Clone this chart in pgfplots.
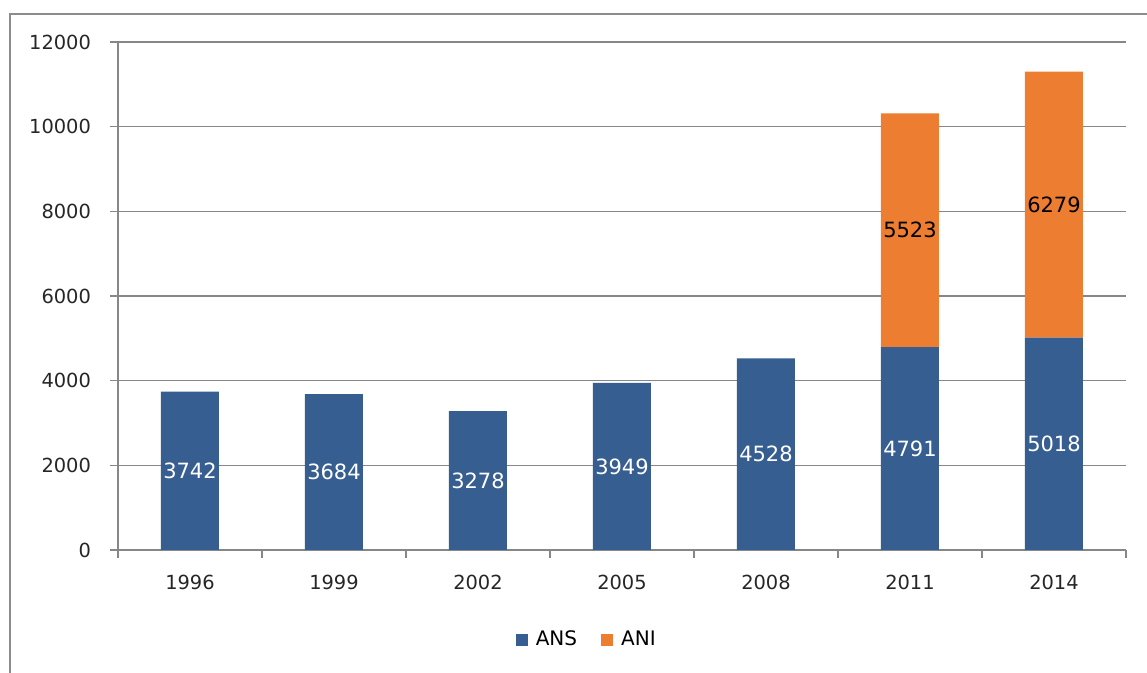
\documentclass[border=0pt]{standalone}
\usepackage{pgfplots}
\usepackage{pgfplotstable}
\usepackage{fontspec}
\setmainfont{DejaVu Sans}
\pgfplotsset{compat=1.18}
\definecolor{ansblue}{RGB}{55,94,145}
\definecolor{aniorange}{RGB}{237,125,49}
\definecolor{gridgray}{RGB}{135,135,135}
\definecolor{framegray}{RGB}{140,140,140}
\pgfplotstableread{
x ans ani
0 3742 0
1 3684 0
2 3278 0
3 3949 0
4 4528 0
5 4791 5523
6 5018 6279
}\datatable
\begin{document}
\begin{tikzpicture}
\path[use as bounding box] (0,0) rectangle (573.5pt,336.5pt);
\draw[framegray, line width=0.8pt] (5pt,0) -- (5pt,329.5pt) -- (573.5pt,329.5pt);
\begin{axis}[
  at={(59pt,61.5pt)}, anchor=south west,
  scale only axis, width=504pt, height=254pt,
  ybar stacked, bar width=29pt,
  xmin=-0.5, xmax=6.5, ymin=0, ymax=12000,
  axis x line=bottom, axis y line=left,
  axis line style={-, gridgray, line width=0.8pt},
  xtick={0,...,6},
  xticklabels={1996,1999,2002,2005,2008,2011,2014},
  minor xtick={-0.5,0.5,...,6.5},
  ytick={0,2000,...,12000},
  scaled y ticks=false,
  ymajorgrids, grid style={gridgray, line width=0.8pt},
  tick align=outside,
  major tick length=4pt, minor tick length=4pt,
  x tick style={draw=none}, minor x tick style={draw=gridgray, line width=0.8pt},
  y tick style={gridgray, line width=0.8pt},
  tick label style={font=\fontsize{9.7pt}{11pt}\selectfont, text=black!85},
  xticklabel style={yshift=-5pt},
  yticklabel style={xshift=-6pt},
  /pgf/number format/assume math mode=true,
  /pgf/number format/1000 sep={},
  legend style={at={(0.466,-0.177)}, anchor=center, draw=none, fill=none,
    legend columns=2, font=\fontsize{10pt}{12pt}\selectfont,
    /tikz/every odd column/.append style={column sep=2pt},
    /tikz/every even column/.append style={column sep=10pt}},
  legend image code/.code={\fill[#1] (0pt,-3pt) rectangle (6pt,3pt);},
  point meta=rawy,
  nodes near coords={\pgfmathfloatifflags{\pgfplotspointmeta}{0}{}{\pgfmathprintnumber[assume math mode=true,1000 sep={}]{\pgfplotspointmeta}}},
  every node near coord/.append style={font=\fontsize{10.5pt}{12pt}\selectfont},
]
\addplot[fill=ansblue, draw=none,
  every node near coord/.append style={text=white}]
  table[x=x, y=ans] {\datatable};
\addlegendentry{ANS}
\addplot[fill=aniorange, draw=none,
  every node near coord/.append style={text=black}]
  table[x=x, y=ani] {\datatable};
\addlegendentry{ANI}
\end{axis}
\end{tikzpicture}
\end{document}
